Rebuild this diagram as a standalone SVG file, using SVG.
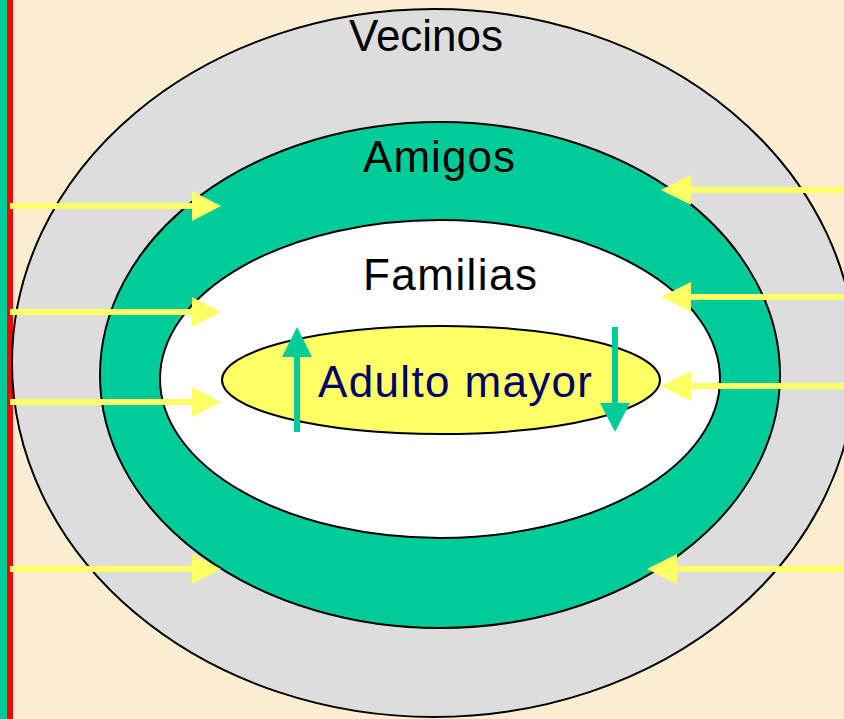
<svg xmlns="http://www.w3.org/2000/svg" width="844" height="719" viewBox="0 0 844 719">
<defs>
<style>
.ring{stroke:#000;stroke-width:2}
.lbl{font-family:"Liberation Sans",Arial,sans-serif;font-size:44px;text-anchor:middle;fill:#000}
.ya{stroke:#FFFF66;stroke-width:6;fill:none}
.yh{fill:#FFFF66}
.ga{stroke:#00CC99;stroke-width:6;fill:none}
.gh{fill:#00CC99}
</style>
</defs>
<rect x="0" y="0" width="844" height="719" fill="#FAEDD0"/>
<rect x="0" y="0" width="7" height="719" fill="#00CC99"/>
<rect x="7" y="0" width="6" height="719" fill="#FF0000"/>
<g id="vecinos">
<ellipse class="ring" cx="434" cy="363" rx="422" ry="354" fill="#DDDDDD"/>
<text class="lbl" x="426" y="51" textLength="154">Vecinos</text>
</g>
<g id="amigos">
<ellipse class="ring" cx="440" cy="375" rx="340" ry="253" fill="#00CC99"/>
<text class="lbl" x="439" y="172" textLength="152">Amigos</text>
</g>
<g id="familias">
<ellipse class="ring" cx="440" cy="379" rx="280" ry="159" fill="#FFFFFF"/>
<text class="lbl" x="450" y="290" textLength="174">Familias</text>
</g>
<g id="adulto">
<ellipse class="ring" cx="441" cy="380" rx="219" ry="54" fill="#FFFF66"/>
<text class="lbl" x="455" y="397" textLength="274" style="fill:#000066">Adulto mayor</text>
</g>
<g id="connectors">
<line class="ya" x1="10" y1="206" x2="194" y2="206"/><polygon class="yh" points="221,206 192,191 192,221"/>
<line class="ya" x1="10" y1="312" x2="194" y2="312"/><polygon class="yh" points="221,312 192,297 192,327"/>
<line class="ya" x1="10" y1="402" x2="194" y2="402"/><polygon class="yh" points="221,402 192,387 192,417"/>
<line class="ya" x1="10" y1="569" x2="194" y2="569"/><polygon class="yh" points="221,569 192,554 192,584"/>
<line class="ya" x1="844" y1="190" x2="689" y2="190"/><polygon class="yh" points="661,190 691,175 691,205"/>
<line class="ya" x1="844" y1="297" x2="689" y2="297"/><polygon class="yh" points="661,297 691,282 691,312"/>
<line class="ya" x1="844" y1="386" x2="689" y2="386"/><polygon class="yh" points="661,386 691,371 691,401"/>
<line class="ya" x1="844" y1="569" x2="675" y2="569"/><polygon class="yh" points="647,569 677,554 677,584"/>
<line class="ga" x1="297" y1="432" x2="297" y2="355"/><polygon class="gh" points="297,327 282,357 312,357"/>
<line class="ga" x1="615" y1="327" x2="615" y2="405"/><polygon class="gh" points="615,432 600,403 630,403"/>
</g>
</svg>
